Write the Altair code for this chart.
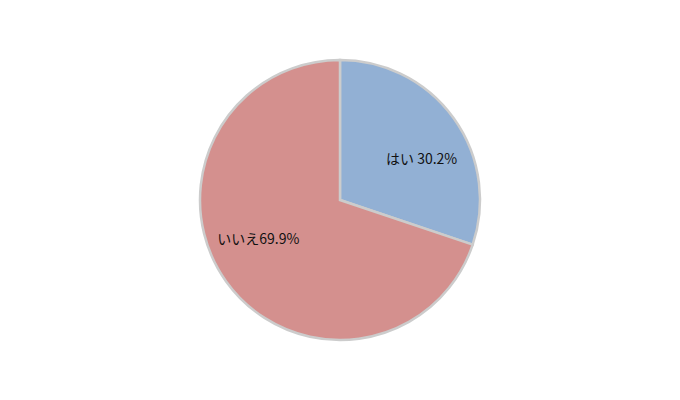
import altair as alt
import pandas as pd

categories = ["はい", "いいえ"]
values = [30.2, 69.9]
labels = ["はい 30.2%", "いいえ69.9%"]
colors = ["#92b0d4", "#d4908e"]

df = pd.DataFrame({"cat": categories, "val": values, "label": labels, "order": [0, 1]})

base = alt.Chart(df).encode(
    theta=alt.Theta("val:Q", stack=True),
    order=alt.Order("order:Q"),
)

arcs = base.mark_arc(outerRadius=140, stroke="#cccccc", strokeWidth=2.5).encode(
    color=alt.Color("cat:N", scale=alt.Scale(domain=categories, range=colors), legend=None)
)

text = base.mark_text(radius=91, thetaOffset=0.165, font="Noto Sans CJK JP",
                      fontSize=14, color="#111111").encode(
    text="label:N"
)

chart = (arcs + text).properties(
    width=664, height=384,
    autosize=alt.AutoSizeParams(type="fit", contains="padding"),
    padding=0,
).configure_view(stroke=None)

chart.save("out.html", embed_options={"renderer": "svg", "actions": False})
